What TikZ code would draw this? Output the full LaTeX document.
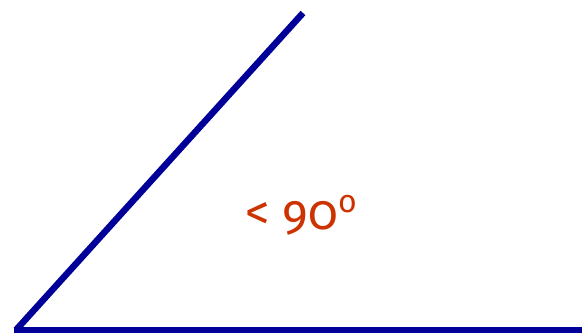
\documentclass[tikz,border=0pt]{standalone}
\usepackage{fontspec}
\setmainfont{Fira Sans}[Numbers=OldStyle]
\usepackage{xcolor}
\usetikzlibrary{positioning}
\definecolor{armblue}{HTML}{000099}
\definecolor{labelred}{HTML}{CC3300}
\tikzset{
  arm/.style={draw=armblue,line width=6.5pt,line cap=butt},
  anglelabel/.style={text=labelred,font=\fontsize{49}{56}\selectfont,
                     inner sep=0pt,anchor=base},
}
\begin{document}
\begin{tikzpicture}[x=1pt,y=1pt]
  \useasboundingbox (0,0) rectangle (582,334);
  \coordinate (apex) at (16,4);
  \coordinate (tip) at (303,321);
  \coordinate (far) at (582,4);
  \draw[arm] (apex) -- (tip);
  \draw[arm] ([xshift=-2pt]apex) -- (far);
  \node[anglelabel] (label) at (301,104) {< 90\raisebox{0.35em}{\fontsize{32}{32}\selectfont o}};
\end{tikzpicture}
\end{document}
